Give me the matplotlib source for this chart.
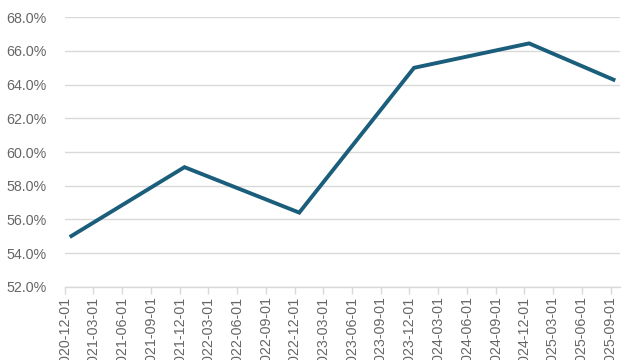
import numpy as np
import pandas as pd
import matplotlib
matplotlib.use("Agg")
import matplotlib.pyplot as plt
import matplotlib.transforms as mtransforms
from matplotlib.ticker import FuncFormatter

plt.rcParams['font.family'] = ['Liberation Sans', 'DejaVu Sans']

# data (points sit mid-month)
dates = ['2020-12-16', '2021-12-16', '2022-12-16', '2023-12-16', '2024-12-16', '2025-09-16']
share = [54.95, 59.1, 56.4, 65.0, 66.45, 64.25]

tick_start = '2020-12-01'
tick_end = '2025-09-01'
x_end = '2025-10-01'

line_color = '#1b5e7b'
text_color = '#666666'
grid_color = '#d9d9d9'

fig = plt.figure(figsize=(6.4, 3.6), dpi=100)
ax = fig.add_axes([65 / 640, 1 - 286.7 / 360, 555 / 640, (286.7 - 17.3) / 360])

ax.plot(pd.to_datetime(dates), share, color=line_color, linewidth=2.8,
        solid_joinstyle='miter', solid_capstyle='butt')

ax.set_ylim(52, 68)
ax.set_yticks(np.arange(52, 68.1, 2))
ax.yaxis.set_major_formatter(FuncFormatter(lambda v, p: f"{v:.1f}%"))
ax.set_xlim(pd.Timestamp(tick_start), pd.Timestamp(x_end))

ticks = pd.date_range(tick_start, tick_end, freq='3MS')
ax.set_xticks(ticks)
ax.set_xticklabels([t.strftime('%Y-%m-%d') for t in ticks], rotation=90,
                   ha='center', va='top')
offset = mtransforms.ScaledTranslation(4 / 100, 0, fig.dpi_scale_trans)
for lbl in ax.get_xticklabels():
    lbl.set_transform(lbl.get_transform() + offset)

ax.grid(axis='y', color=grid_color, linewidth=1)
ax.set_axisbelow(True)
for s in ['top', 'right', 'left']:
    ax.spines[s].set_visible(False)
ax.spines['bottom'].set_color(grid_color)
ax.spines['bottom'].set_linewidth(1)

ax.tick_params(axis='y', length=0, pad=13, labelsize=10.3, labelcolor=text_color)
ax.tick_params(axis='x', length=5, width=1, color=grid_color, pad=2,
               labelsize=10.3, labelcolor=text_color)

fig.savefig('out.png', dpi=100)
